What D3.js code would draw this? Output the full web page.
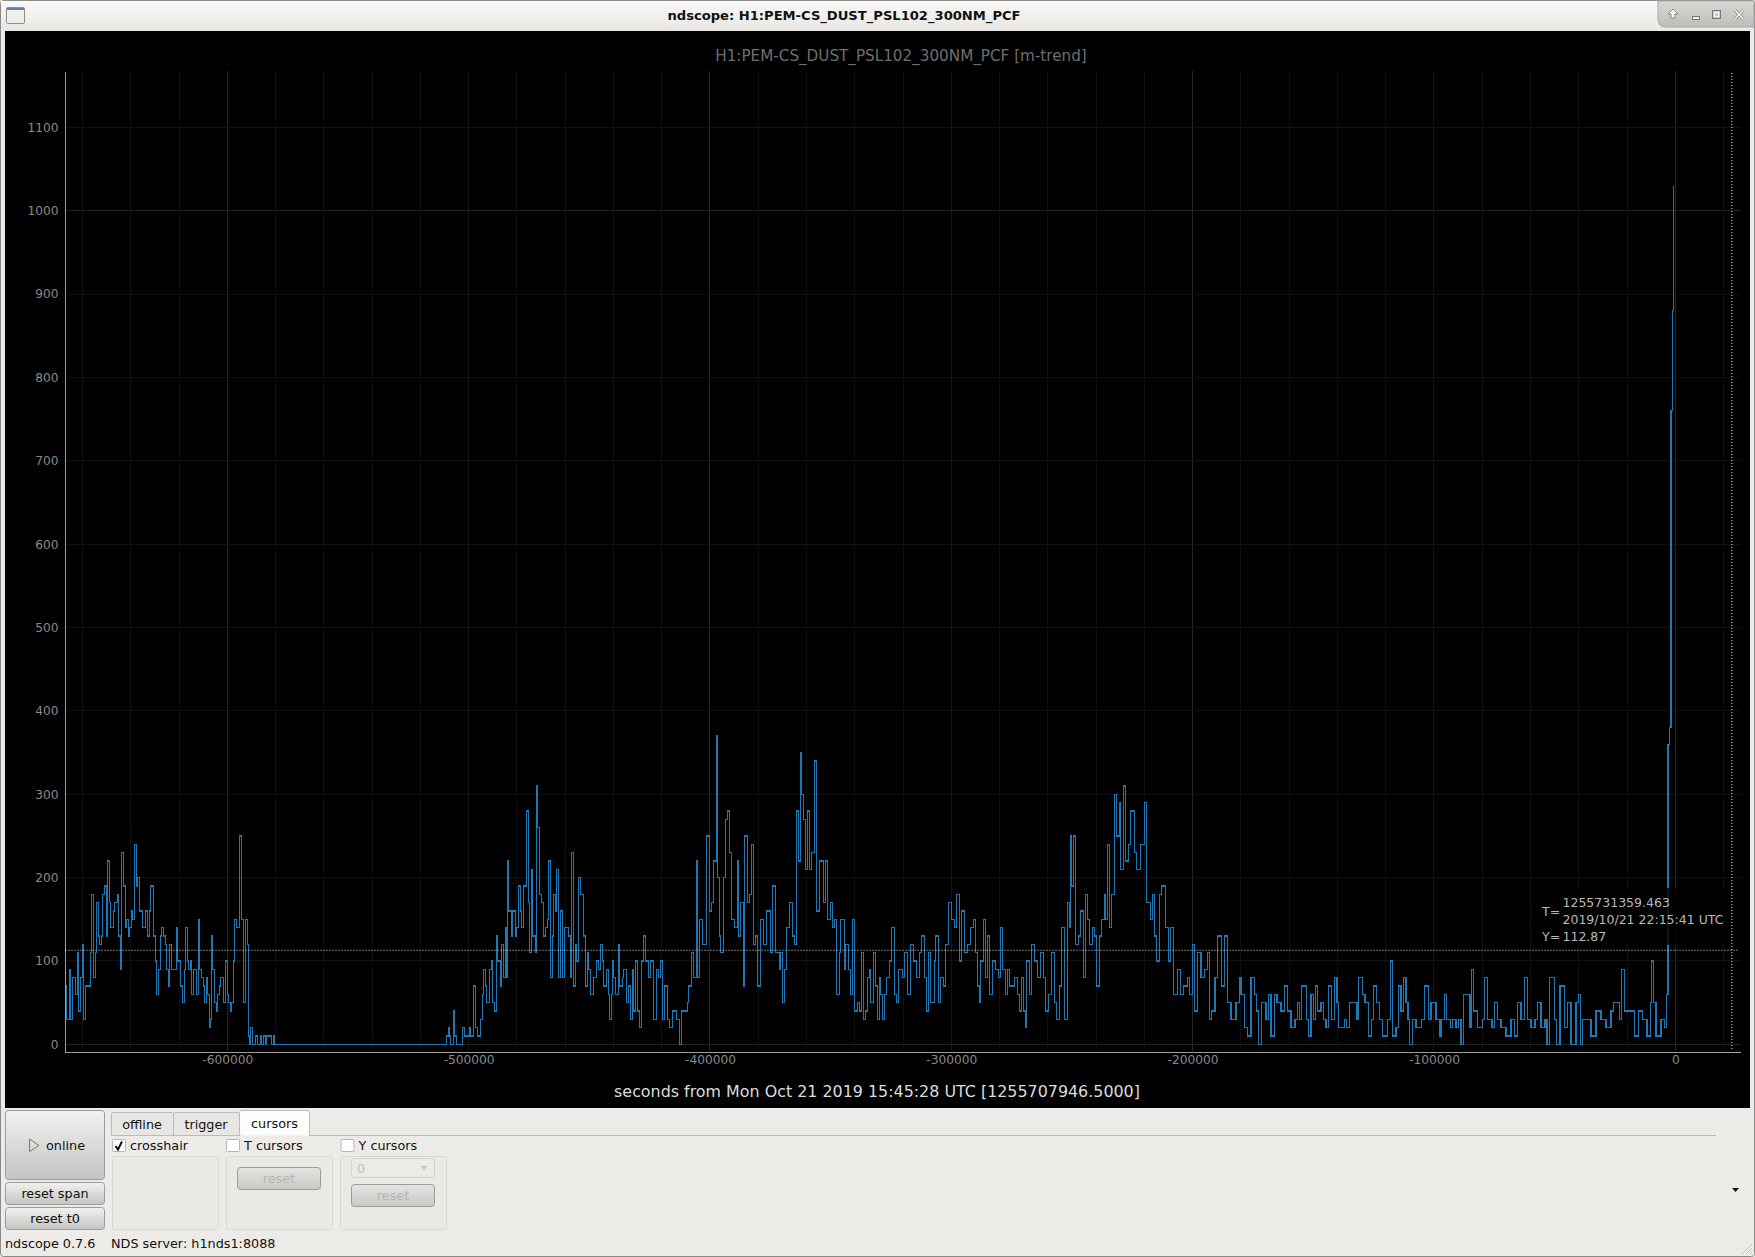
<!DOCTYPE html>
<html>
<head>
<meta charset="utf-8">
<title>ndscope</title>
<script src="https://cdn.jsdelivr.net/npm/d3@7"></script>
<style>
html, body { margin: 0; padding: 0; background: #edebe7; }
svg { display: block; }
text { font-family: "DejaVu Sans", sans-serif; }
</style>
</head>
<body>
<svg id="win" width="1755" height="1257"></svg>
<script>
/* trend values, each one held for holdSamples[i] samples */
var stepValues = [
 90,70,30,90,30,80,60,110,40,80,120,30,70,110,180,80,110,170,130,120,130,180,190,130,220,170,140,160,170,180,130,90,230,190,140,150,130,140,160,150,240,190,200,160,140,160,130,160,190,130,100,60,90,130,140,130,120,90,70,120,90,140,100,70,50,90,140,100,90,100,60,90,60,150,90,80,70,50,80,60,20,30,130,90,50,40,60,70,80,50,100,60,50,40,50,100,150,140,250,150,50,150,120,10,0,20,0,10,0,10,0,10,0,10,0,10,0,
 10,20,10,0,40,10,0,20,10,20,10,70,20,10,30,60,90,70,50,90,100,50,40,130,100,70,120,80,140,80,220,160,130,160,130,140,190,160,140,190,280,170,110,210,130,110,310,260,180,170,130,140,150,220,80,130,180,160,210,80,160,80,140,130,80,230,70,120,100,200,180,130,70,110,90,60,80,100,90,120,100,70,90,60,30,60,100,80,60,120,70,80,90,50,70,30,90,40,100,40,20,100,130,100,80,100,30,90,80,100,30,70,30,20,40,30,0,40,50,70,110,80,220,80,150,120,250,160,170,220,370,200,130,110,200,270,280,230,150,140,220,130,170,70,250,170,180,240,120,130,70,150,120,160,110,190,110,90,110,50,90,140,170,130,120,280,220,350,300,270,210,280,210,230,340,160,220,170,220,150,170,140,150,60,110,150,90,120,90,60,150,40,50,
 40,110,30,40,80,90,50,110,70,30,80,60,30,60,80,100,140,60,50,90,80,110,60,120,100,80,110,130,80,40,110,50,100,130,50,80,70,120,170,150,140,180,100,160,110,120,140,150,110,70,50,100,150,80,130,60,100,90,80,140,90,60,90,70,80,60,40,80,40,20,100,60,120,100,80,110,80,40,60,110,50,30,70,140,30,170,140,250,190,250,120,130,160,80,180,150,120,140,130,70,130,150,180,150,240,140,180,300,250,290,210,310,220,240,280,230,210,240,290,170,150,180,130,100,180,190,140,100,140,60,90,60,70,80,60,120,40,110,80,90,110,30,40,80,130,70,130,50,30,50,80,60,20,10,80,60,40,0,50,30,60,10,60,50,40,70,40,20,30,50,
 30,70,30,10,60,30,70,40,50,30,20,70,30,80,50,20,30,20,50,30,80,60,50,10,30,70,50,30,10,30,100,10,20,70,40,80,50,30,0,30,20,30,70,30,50,30,10,30,60,30,20,30,20,30,0,60,20,90,40,20,30,80,30,20,50,30,20,10,30,10,50,30,80,30,20,30,50,20,30,0,80,30,0,70,20,50,0,50,60,0,30,10,40,30,20,40,50,30,90,40,40,10,40,30,10,50,100,50,10,30,20,60,360,380,760,880,1030
];
var holdSamples = [
 2,5,8,4,5,8,7,4,6,5,3,6,14,4,7,4,5,4,4,6,4,6,4,4,6,4,8,4,8,4,6,3,6,5,4,5,4,4,5,5,6,4,6,9,9,6,4,5,8,7,3,5,6,3,7,4,5,4,4,7,13,4,9,7,4,4,6,4,4,5,4,11,5,4,6,6,3,5,4,4,4,3,4,6,4,4,6,3,9,6,5,4,5,4,6,4,6,7,8,5,5,6,3,4,4,5,9,6,8,5,5,5,5,15,5,3,515,
 6,4,4,8,4,6,17,6,15,4,8,6,6,10,4,4,5,5,7,6,5,5,6,4,7,4,5,6,4,3,4,7,4,8,4,7,4,4,6,10,4,4,6,3,8,4,3,7,4,8,5,5,5,6,4,5,5,4,6,5,6,6,11,7,4,4,6,4,7,6,7,7,5,5,6,9,7,6,7,5,5,7,6,5,5,2,5,5,8,4,8,5,7,8,5,5,5,5,5,7,6,7,5,8,7,8,9,6,7,5,7,8,7,10,11,10,4,18,5,7,6,9,3,8,7,13,10,6,6,7,5,6,3,7,8,6,5,6,10,7,5,5,8,5,8,6,6,6,7,5,10,7,9,14,5,10,10,5,5,5,8,7,10,7,5,5,6,4,6,5,7,7,5,8,8,7,12,6,7,8,7,7,5,8,5,10,5,7,6,6,6,10,
 5,7,6,7,5,5,5,7,8,5,5,5,5,5,8,9,6,7,7,5,13,7,8,10,8,9,8,7,8,8,5,7,10,5,8,7,8,7,7,11,7,8,7,8,7,10,10,7,6,7,5,5,8,7,5,7,8,10,7,6,7,8,7,7,13,10,5,7,5,6,4,8,8,7,10,8,10,7,7,10,8,7,8,7,10,8,5,3,4,5,8,7,8,7,6,7,7,8,7,6,7,7,8,5,5,6,6,8,8,7,5,7,8,7,8,10,8,10,12,8,10,7,7,5,8,6,14,9,6,8,12,8,10,12,7,8,7,8,10,10,10,5,7,10,8,12,8,10,10,15,10,5,10,10,10,10,7,6,9,13,7,8,10,8,12,10,10,10,12,8,
 5,7,15,6,7,7,6,7,10,8,7,7,10,8,8,5,17,7,8,23,5,12,7,10,10,6,9,8,10,15,8,7,10,7,8,8,7,6,5,9,10,17,8,12,8,15,10,5,10,7,11,7,10,8,7,7,20,5,5,13,15,5,10,13,7,10,10,15,15,10,10,10,10,10,10,12,8,10,12,6,7,15,7,10,13,10,10,15,8,5,7,25,15,15,15,15,8,17,7,8,15,15,12,13,13,10,4,6,7,15,10,7,4,5,4,4,3
];
var SAMPLE_SECONDS = 138.13;
var trace_Start = -667460;

var yTickValues = [0,100,200,300,400,500,600,700,800,900,1000,1100];
var xTickValues = [-600000,-500000,-400000,-300000,-200000,-100000,0];
var xMinorValues = [-660000,-640000,-620000,-580000,-560000,-540000,-520000,-480000,-460000,-440000,-420000,-380000,-360000,-340000,-320000,-280000,-260000,-240000,-220000,-180000,-160000,-140000,-120000,-80000,-60000,-40000,-20000,20000];
var xBrightValues = [-600000,-400000,-200000,0];
var yBrightValues = [0,1000];

var channel_Title = "H1:PEM-CS_DUST_PSL102_300NM_PCF";
var crosshair_T = 23412.963;
var crosshair_Y = 112.87;

var svg = d3.select("#win");
var defs = svg.append("defs");

function add_Gradient(id, top, bottom){
	var g = defs.append("linearGradient").attr("id", id).attr("x1", 0).attr("y1", 0).attr("x2", 0).attr("y2", 1);
	g.append("stop").attr("offset", "0%").attr("stop-color", top);
	g.append("stop").attr("offset", "100%").attr("stop-color", bottom);
}
add_Gradient("titlebar", "#f8f8f6", "#e8e7e4");
add_Gradient("controls", "#d8d8d5", "#bcbcb9");
add_Gradient("button", "#f1f1ef", "#c4c4c2");
add_Gradient("buttonOff", "#e6e4e1", "#c9c9c7");

function box(parent, x, y, w, h, fill, stroke, r){
	return parent.append("rect").attr("x", x).attr("y", y).attr("width", w).attr("height", h)
				 .attr("fill", fill).attr("stroke", stroke || "none").attr("rx", r || 0).attr("shape-rendering", r ? null : "crispEdges");
}
function label(parent, x, y, txt, size, fill, anchor, weight){
	return parent.append("text").attr("x", x).attr("y", y).text(txt)
				 .attr("font-size", size).attr("fill", fill)
				 .attr("text-anchor", anchor || "start").attr("font-weight", weight || "normal");
}

/* WINDOW FRAME */
box(svg, 0.5, 0.5, 1754, 1256, "#edebe7", "#8a8a88", 3);
box(svg, 1, 1, 1753, 30, "url(#titlebar)");
label(svg, 844, 20, "ndscope: " + channel_Title, 13.1, "#111", "middle", "bold");

/* window icon */
box(svg, 6.5, 7.5, 18, 16, "#eeeeec", "#8d8d8b", 1);
box(svg, 7, 8, 17, 2, "#5d7fb5");

/* window buttons */
svg.append("path").attr("d", "M1658,1 H1754 V27 H1666 Q1658,27 1658,19 Z").attr("fill", "url(#controls)").attr("stroke", "#a8a8a6");
svg.append("path").attr("d", "M1671,18 L1671,14 L1668,14 L1673,9 L1678,14 L1675,14 L1675,18 Z").attr("fill", "#f4f4f4").attr("stroke", "#777").attr("stroke-width", 0.8);
box(svg, 1692.5, 16.5, 7, 3, "#f4f4f4", "#777");
box(svg, 1712.5, 10.5, 8, 8, "none", "#777");
box(svg, 1714.5, 12.5, 4, 4, "none", "#f4f4f4");
svg.append("path").attr("d", "M1735,10 L1743,19 M1743,10 L1735,19").attr("stroke", "#888").attr("stroke-width", 3);
svg.append("path").attr("d", "M1735,10 L1743,19 M1743,10 L1735,19").attr("stroke", "#f4f4f4").attr("stroke-width", 1.5);

/* PLOT */
box(svg, 5, 31, 1745, 1077, "#000");

var x = d3.scaleLinear().domain([trace_Start, 27100]).range([64.5, 1740.7]);
var y = d3.scaleLinear().domain([-8, 1167.6]).range([1051, 71]);

var grid = svg.append("g").attr("shape-rendering", "crispEdges");
grid.selectAll(".xminor").data(xMinorValues).enter().append("line")
	.attr("x1", x).attr("x2", x).attr("y1", y(-8)).attr("y2", y(1167.6)).attr("stroke", "#0f0f0f");
grid.selectAll(".xmajor").data(xTickValues).enter().append("line")
	.attr("x1", x).attr("x2", x).attr("y1", y(-8)).attr("y2", y(1167.6))
	.attr("stroke", function(d){ return xBrightValues.indexOf(d) >= 0 ? "#262626" : "#141414"; });
grid.selectAll(".ymajor").data(yTickValues).enter().append("line")
	.attr("x1", x.range()[0]).attr("x2", x.range()[1]).attr("y1", y).attr("y2", y)
	.attr("stroke", function(d){ return yBrightValues.indexOf(d) >= 0 ? "#222222" : "#121212"; });

/* build the step trace from values and hold times */
var trace_Points = [];
var t = trace_Start;
for(var index = 0; index < stepValues.length; index++){
	trace_Points.push([t, stepValues[index]]);
	t += holdSamples[index] * SAMPLE_SECONDS;
}
trace_Points.push([t, stepValues[stepValues.length - 1]]);

var trace_Line = d3.line().x(function(d){ return x(d[0]); }).y(function(d){ return y(d[1]); }).curve(d3.curveStepAfter);
svg.append("path").datum(trace_Points).attr("d", trace_Line)
	.attr("fill", "none").attr("stroke", "#1f77b4").attr("stroke-width", 1.2).attr("shape-rendering", "crispEdges");

/* axes */
var yAxis = d3.axisLeft(y).tickValues(yTickValues).tickSize(0).tickPadding(6).tickFormat(d3.format("d"));
var xAxis = d3.axisBottom(x).tickValues(xTickValues).tickSize(0).tickPadding(4).tickFormat(function(d){ return String(d); });

function style_Axis(g){
	g.select(".domain").attr("stroke", "#a0a0a0").attr("shape-rendering", "crispEdges");
	g.selectAll("text").attr("fill", "#8a8a8a").attr("font-size", 12.2).attr("font-family", "DejaVu Sans");
}
svg.append("g").attr("transform", "translate(64.5,0)").call(yAxis).call(style_Axis);
svg.append("g").attr("transform", "translate(0,1051.5)").call(xAxis).call(style_Axis);

/* crosshair */
var cross = svg.append("g").attr("stroke", "#e4e4e4").attr("stroke-dasharray", "1,2");
cross.append("line").attr("x1", x(trace_Start) + 1).attr("x2", 1738).attr("y1", y(crosshair_Y)).attr("y2", y(crosshair_Y));
cross.append("line").attr("x1", x(crosshair_T)).attr("x2", x(crosshair_T)).attr("y1", 73).attr("y2", 1049);

svg.append("rect").attr("x", 1538).attr("y", 888).attr("width", 186).attr("height", 57).attr("fill", "#000").attr("opacity", 0.8);
label(svg, 1542, 916, "T=", 12.5, "#b8b8b8");
label(svg, 1562.5, 907, "1255731359.463", 12.5, "#b8b8b8");
label(svg, 1562.5, 924, "2019/10/21 22:15:41 UTC", 12.5, "#b8b8b8");
label(svg, 1542, 941, "Y=", 12.5, "#b8b8b8");
label(svg, 1562.5, 941, "112.87", 12.5, "#b8b8b8");

label(svg, 901, 60.5, channel_Title + " [m-trend]", 15.2, "#6e6e6e", "middle");
label(svg, 877, 1096.5, "seconds from Mon Oct 21 2019 15:45:28 UTC [1255707946.5000]", 15.9, "#dcdcdc", "middle");

/* CONTROL PANEL */
function push_Button(x0, y0, w, h, txt, off){
	box(svg, x0, y0, w, h, off ? "url(#buttonOff)" : "url(#button)", "#9b9b99", 3);
	if(txt) label(svg, x0 + w / 2, y0 + h / 2 + 4, txt, 12.8, off ? "#b5b5b3" : "#111", "middle");
}
push_Button(5.5, 1110.5, 99, 69, "");
svg.append("path").attr("d", "M29.5,1139 L39,1145.5 L29.5,1151.5 Z").attr("fill", "none").attr("stroke", "#777");
label(svg, 46, 1150, "online", 12.8, "#111");
push_Button(5.5, 1182.5, 99, 22, "reset span");
push_Button(5.5, 1207.5, 99, 22, "reset t0");

/* tabs */
svg.append("line").attr("x1", 111).attr("x2", 1716).attr("y1", 1135.5).attr("y2", 1135.5).attr("stroke", "#bcbab6");
box(svg, 111.5, 1112.5, 62, 23, "#e8e6e2", "#bcbab6", 2);
box(svg, 173.5, 1112.5, 66, 23, "#e8e6e2", "#bcbab6", 2);
box(svg, 239.5, 1110.5, 70, 25, "#fdfdfc", "#bcbab6", 2);
svg.append("line").attr("x1", 240).attr("x2", 309).attr("y1", 1135.5).attr("y2", 1135.5).attr("stroke", "#f4f3f0");
label(svg, 142, 1129, "offline", 12.8, "#111", "middle");
label(svg, 206, 1129, "trigger", 12.8, "#111", "middle");
label(svg, 274.5, 1128, "cursors", 12.8, "#111", "middle");

/* check boxes and group boxes */
function check_Box(x0, txt, on){
	box(svg, x0, 1139.5, 13, 12, "#fff", "#b9b7b3", 1);
	label(svg, x0 + 17.5, 1150, txt, 12.8, "#111");
	if(on) svg.append("path").attr("d", "M" + (x0 + 3) + ",1146 l2.5,3.5 l4,-8").attr("fill", "none").attr("stroke", "#111").attr("stroke-width", 2);
}
check_Box(112.5, "crosshair", true);
check_Box(226.5, "T cursors", false);
check_Box(341, "Y cursors", false);

box(svg, 112.5, 1156.5, 106, 73, "#ebe9e5", "#dbd9d5", 2);
box(svg, 226.5, 1156.5, 106, 73, "#ebe9e5", "#dbd9d5", 2);
box(svg, 340.5, 1156.5, 106, 73, "#ebe9e5", "#dbd9d5", 2);

push_Button(237.5, 1167.5, 83, 22, "reset", true);
box(svg, 351.5, 1158.5, 83, 19, "#edebe7", "#d5d3cf", 3);
label(svg, 357, 1173, "0", 12.8, "#bbb");
svg.append("path").attr("d", "M420,1166 h8 l-4,4 Z").attr("fill", "#c8c6c2");
push_Button(351.5, 1184.5, 83, 22, "reset", true);

svg.append("path").attr("d", "M1732,1188 h7 l-3.5,4 Z").attr("fill", "#111");

/* status bar */
label(svg, 5, 1248, "ndscope 0.7.6", 12.8, "#111");
label(svg, 111, 1248, "NDS server: h1nds1:8088", 12.8, "#111");
svg.append("path").attr("d", "M1752,1244 L1742,1254 M1752,1248 L1746,1254 M1752,1252 L1750,1254").attr("stroke", "#c4c2be");
</script>
</body>
</html>
